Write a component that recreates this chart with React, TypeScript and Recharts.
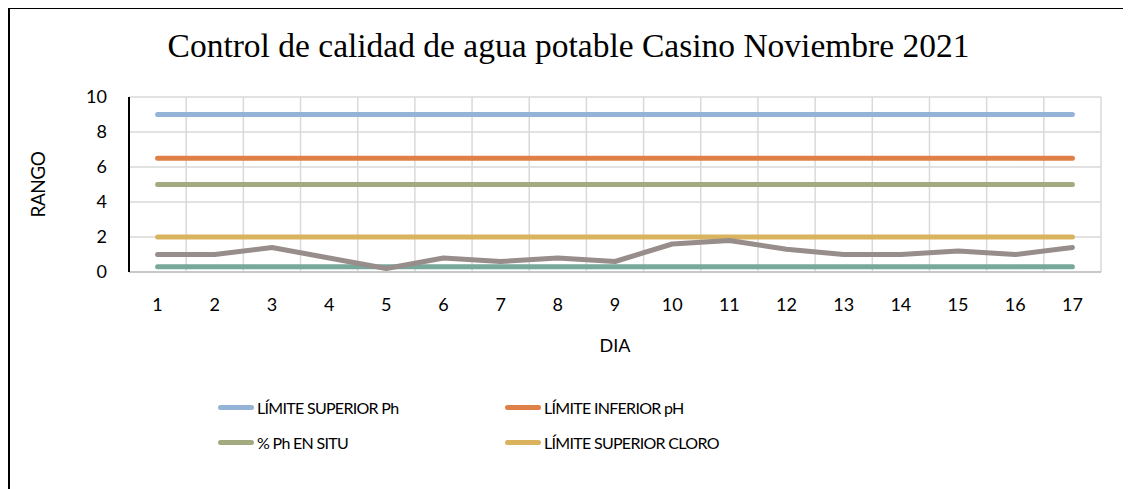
import React from 'react';
import { LineChart, Line, XAxis, YAxis, CartesianGrid, Legend } from 'recharts';

const dias = ['1', '2', '3', '4', '5', '6', '7', '8', '9', '10', '11', '12', '13', '14', '15', '16', '17'];
const limiteSuperiorPh = [9, 9, 9, 9, 9, 9, 9, 9, 9, 9, 9, 9, 9, 9, 9, 9, 9];
const limiteInferiorPh = [6.5, 6.5, 6.5, 6.5, 6.5, 6.5, 6.5, 6.5, 6.5, 6.5, 6.5, 6.5, 6.5, 6.5, 6.5, 6.5, 6.5];
const phEnSitu = [5, 5, 5, 5, 5, 5, 5, 5, 5, 5, 5, 5, 5, 5, 5, 5, 5];
const limiteSuperiorCloro = [2, 2, 2, 2, 2, 2, 2, 2, 2, 2, 2, 2, 2, 2, 2, 2, 2];
const limiteInferiorCloro = [0.3, 0.3, 0.3, 0.3, 0.3, 0.3, 0.3, 0.3, 0.3, 0.3, 0.3, 0.3, 0.3, 0.3, 0.3, 0.3, 0.3];
const cloroEnSitu = [1, 1, 1.4, 0.8, 0.2, 0.8, 0.6, 0.8, 0.6, 1.6, 1.8, 1.3, 1, 1, 1.2, 1, 1.4];
const yTicks = [0, 2, 4, 6, 8, 10];

const seriesDefs = [
  { key: 'supPh', name: 'LÍMITE SUPERIOR Ph', color: '#95B3D7', values: limiteSuperiorPh },
  { key: 'infPh', name: 'LÍMITE INFERIOR pH', color: '#DE8047', values: limiteInferiorPh },
  { key: 'phSitu', name: '% Ph EN SITU', color: '#A3AA80', values: phEnSitu },
  { key: 'supCl', name: 'LÍMITE SUPERIOR CLORO', color: '#DAB35E', values: limiteSuperiorCloro },
  { key: 'infCl', name: 'LÍMITE INFERIOR CLORO', color: '#77A89A', values: limiteInferiorCloro },
  { key: 'clSitu', name: 'CLORO EN SITU', color: '#978D8B', values: cloroEnSitu },
];

const data = dias.map((d, i) => {
  const row: Record<string, string | number> = { dia: d };
  seriesDefs.forEach((s) => {
    row[s.key] = s.values[i];
  });
  return row;
});

const FONT = "Lato, 'Liberation Sans', Arial, sans-serif";

const legendPos = [
  { left: 208, top: 55 },
  { left: 495, top: 55 },
  { left: 208, top: 90 },
  { left: 495, top: 90 },
];

const LegendContent = () => (
  <div style={{ position: 'relative', width: 1117, height: 100 }}>
    {seriesDefs.slice(0, 4).map((s, i) => (
      <div
        key={s.key}
        style={{
          position: 'absolute',
          left: legendPos[i].left,
          top: legendPos[i].top - 11,
          height: 22,
          display: 'flex',
          alignItems: 'center',
          fontFamily: FONT,
          fontSize: 16,
          letterSpacing: -0.7,
          color: '#000',
          whiteSpace: 'nowrap',
        }}
      >
        <span
          style={{
            display: 'inline-block',
            width: 36,
            height: 5,
            borderRadius: 3,
            background: s.color,
            marginRight: 3,
          }}
        />
        {s.name}
      </div>
    ))}
  </div>
);

const YLabel = (props: any) => {
  const vb = props.viewBox || {};
  const cx = vb.x + 27;
  const cy = vb.y + vb.height / 2;
  return (
    <text
      x={cx}
      y={cy}
      transform={`rotate(-90, ${cx}, ${cy})`}
      textAnchor="middle"
      dominantBaseline="central"
      fontFamily={FONT}
      fontSize={19}
      letterSpacing={-0.5}
      fill="#000"
    >
      RANGO
    </text>
  );
};

const XLabel = (props: any) => {
  const vb = props.viewBox || {};
  return (
    <text
      x={vb.x + vb.width / 2}
      y={vb.y + 73}
      textAnchor="middle"
      dominantBaseline="central"
      fontFamily={FONT}
      fontSize={18}
      fill="#000"
    >
      DIA
    </text>
  );
};

const verticalGen = (props: any) => {
  const off = props.offset;
  const n = dias.length;
  return Array.from({ length: n + 1 }, (_, i) => off.left + (i * off.width) / n);
};

export default function App() {
  return (
    <div
      style={{
        position: 'relative',
        width: 1121,
        height: 495,
        border: '2px solid #000',
        boxSizing: 'border-box',
        marginTop: -1,
        background: '#fff',
        overflow: 'hidden',
      }}
    >
      <div
        style={{
          position: 'absolute',
          top: 20,
          left: 0,
          width: '100%',
          textAlign: 'center',
          fontFamily: "'Liberation Serif', 'DejaVu Serif', serif",
          fontSize: 33.5,
          lineHeight: '34px',
          color: '#000',
          zIndex: 2,
        }}
      >
        Control de calidad de agua potable Casino Noviembre 2021
      </div>
      <LineChart
        width={1117}
        height={443}
        data={data}
        margin={{ top: 88, right: 26, left: 0, bottom: 0 }}
      >
        <CartesianGrid
          stroke="#D9D9D9"
          strokeWidth={1.5}
          horizontalValues={yTicks}
          verticalCoordinatesGenerator={verticalGen}
        />
        <XAxis
          dataKey="dia"
          scale="band"
          height={80}
          tickLine={false}
          tickSize={0}
          tickMargin={26}
          interval={0}
          axisLine={{ stroke: '#BFBFBF', strokeWidth: 1.5 }}
          tick={{ fill: '#000', fontSize: 18, fontFamily: FONT }}
          label={<XLabel />}
        />
        <XAxis
          xAxisId="top"
          dataKey="dia"
          orientation="top"
          height={0}
          tick={false}
          tickLine={false}
          axisLine={{ stroke: '#000', strokeWidth: 2 }}
        />
        <YAxis
          width={119}
          domain={[0, 10]}
          ticks={yTicks}
          interval={0}
          tickLine={false}
          tickSize={0}
          tickMargin={22}
          axisLine={{ stroke: '#000', strokeWidth: 2 }}
          tick={{ fill: '#000', fontSize: 18, fontFamily: FONT }}
          label={<YLabel />}
        />
        <YAxis
          yAxisId="right"
          orientation="right"
          width={0}
          domain={[0, 10]}
          tick={false}
          tickLine={false}
          axisLine={{ stroke: '#000', strokeWidth: 2 }}
        />
        <Legend verticalAlign="bottom" content={<LegendContent />} wrapperStyle={{ left: 0, bottom: 0, width: 1117, height: 100 }} />
        {seriesDefs.map((s) => (
          <Line
            key={s.key}
            type="linear"
            dataKey={s.key}
            name={s.name}
            stroke={s.color}
            strokeWidth={5}
            strokeLinecap="round"
            strokeLinejoin="round"
            dot={false}
            activeDot={false}
            isAnimationActive={false}
          />
        ))}
      </LineChart>
    </div>
  );
}
